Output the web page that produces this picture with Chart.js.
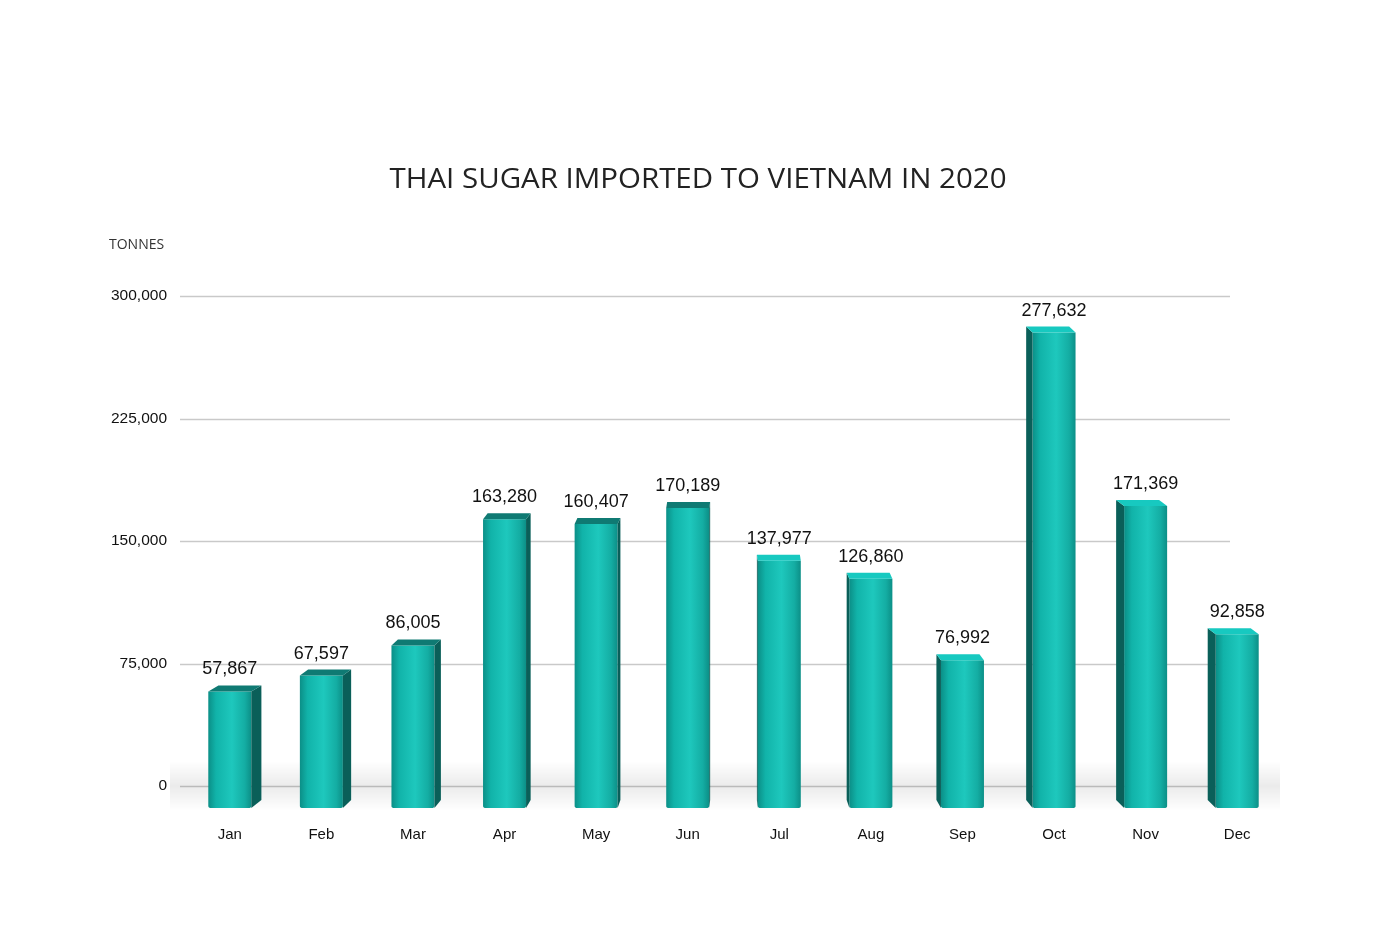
<!DOCTYPE html>
<html>
<head>
<meta charset="utf-8">
<script src="https://cdn.jsdelivr.net/npm/chart.js@4.4.1/dist/chart.umd.min.js"></script>
<style>
html,body{margin:0;padding:0;background:#fff;}
#wrap{width:1398px;height:950px;}
</style>
</head>
<body>
<div id="wrap"><canvas id="c" width="1398" height="950"></canvas></div>
<script>
const categories = ['Jan','Feb','Mar','Apr','May','Jun','Jul','Aug','Sep','Oct','Nov','Dec'];
const importedTonnes = [57867, 67597, 86005, 163280, 160407, 170189, 137977, 126860, 76992, 277632, 171369, 92858];
const yTicks = [0, 75000, 150000, 225000, 300000];
const titleText = 'THAI SUGAR IMPORTED TO VIETNAM IN 2020';
const unitText = 'TONNES';

const fmt = v => v.toLocaleString('en-US');

const decorPlugin = {
  id: 'decor',
  beforeDatasetsDraw(chart) {
    const ctx = chart.ctx;
    const y = chart.scales.y;
    ctx.save();
    ctx.strokeStyle = '#c9c9c9';
    ctx.lineWidth = 1.5;
    yTicks.forEach(t => {
      const py = Math.round(y.getPixelForValue(t)) + 0.5;
      ctx.beginPath();
      ctx.moveTo(180, py);
      ctx.lineTo(1230, py);
      ctx.stroke();
    });
    const base = y.getPixelForValue(0);
    const g = ctx.createLinearGradient(0, base - 25, 0, base + 25);
    g.addColorStop(0, 'rgba(0,0,0,0)');
    g.addColorStop(0.5, 'rgba(0,0,0,0.08)');
    g.addColorStop(1, 'rgba(0,0,0,0)');
    ctx.fillStyle = g;
    ctx.fillRect(170, base - 25, 1110, 50);
    ctx.restore();
  },
  afterDatasetsDraw(chart) {
    const ctx = chart.ctx;
    const meta = chart.getDatasetMeta(0);
    ctx.save();
    meta.data.forEach((bar, i) => {
      const w = bar.width;
      const x0 = bar.x - w / 2, x1 = bar.x + w / 2;
      const top = bar.y, bottom = bar.base + 22;
      const side = Math.max(-8, Math.min(11, -(bar.x - 735) * 0.02));
      const g = ctx.createLinearGradient(x0, 0, x1, 0);
      g.addColorStop(0, '#0b8f87');
      g.addColorStop(0.18, '#11b3a9');
      g.addColorStop(0.55, '#1ec8bd');
      g.addColorStop(0.85, '#14ada3');
      g.addColorStop(1, '#0c8f87');
      ctx.fillStyle = g;
      ctx.beginPath();
      ctx.moveTo(x0, top);
      ctx.lineTo(x1, top);
      ctx.lineTo(x1, bottom - 2);
      ctx.quadraticCurveTo(x1, bottom, x1 - 3, bottom);
      ctx.lineTo(x0 + 3, bottom);
      ctx.quadraticCurveTo(x0, bottom, x0, bottom - 2);
      ctx.closePath();
      ctx.fill();
      const sx = side >= 0 ? x1 : x0;
      ctx.fillStyle = '#0a5f59';
      ctx.beginPath();
      ctx.moveTo(sx, top);
      ctx.lineTo(sx + side, top - 6);
      ctx.lineTo(sx + side, bottom - 8);
      ctx.lineTo(sx, bottom);
      ctx.closePath();
      ctx.fill();
      ctx.fillStyle = side >= 0 ? '#0f7a73' : '#17c9c0';
      ctx.beginPath();
      ctx.moveTo(x0, top);
      ctx.lineTo(x0 + side, top - 6);
      ctx.lineTo(x1 + side, top - 6);
      ctx.lineTo(x1, top);
      ctx.closePath();
      ctx.fill();
      ctx.fillStyle = '#111';
      ctx.font = '18px "Liberation Sans", Arial, sans-serif';
      ctx.textAlign = 'center';
      ctx.textBaseline = 'middle';
      ctx.fillText(fmt(importedTonnes[i]), bar.x, top - 22);
    });
    ctx.restore();
  },
  afterDraw(chart) {
    const ctx = chart.ctx;
    ctx.save();
    ctx.fillStyle = '#222';
    ctx.textBaseline = 'middle';
    ctx.textAlign = 'center';
    ctx.font = '28px "Open Sans", sans-serif';
    const tw = ctx.measureText(titleText).width;
    ctx.translate(698, 180);
    ctx.scale(617 / tw, 1);
    ctx.fillText(titleText, 0, 0);
    ctx.restore();
    ctx.save();
    ctx.fillStyle = '#333';
    ctx.font = '14px "Open Sans", sans-serif';
    ctx.textAlign = 'left';
    ctx.textBaseline = 'middle';
    ctx.fillText(unitText, 109, 245);
    ctx.restore();
  }
};

new Chart(document.getElementById('c'), {
  type: 'bar',
  data: {
    labels: categories,
    datasets: [{
      data: importedTonnes,
      backgroundColor: 'rgba(0,0,0,0)',
      borderWidth: 0,
      barThickness: 43
    }]
  },
  options: {
    responsive: false,
    animation: false,
    devicePixelRatio: 1,
    layout: { padding: { top: 296, right: 115, bottom: 66, left: 0 } },
    plugins: { legend: { display: false }, tooltip: { enabled: false }, title: { display: false } },
    scales: {
      x: {
        grid: { display: false, drawTicks: false },
        border: { display: false },
        ticks: { color: '#111', font: { family: '"Liberation Sans", Arial, sans-serif', size: 15 }, padding: 40 }
      },
      y: {
        min: 0, max: 300000,
        afterBuildTicks(s) { s.ticks = yTicks.map(v => ({ value: v })); },
        afterFit(s) { s.width = 184; },
        grid: { display: false, drawTicks: false },
        border: { display: false },
        ticks: {
          color: '#111',
          padding: 17,
          font: { family: '"Liberation Sans", Arial, sans-serif', size: 15.5 },
          callback: v => fmt(v)
        }
      }
    }
  },
  plugins: [decorPlugin]
});
</script>
</body>
</html>
